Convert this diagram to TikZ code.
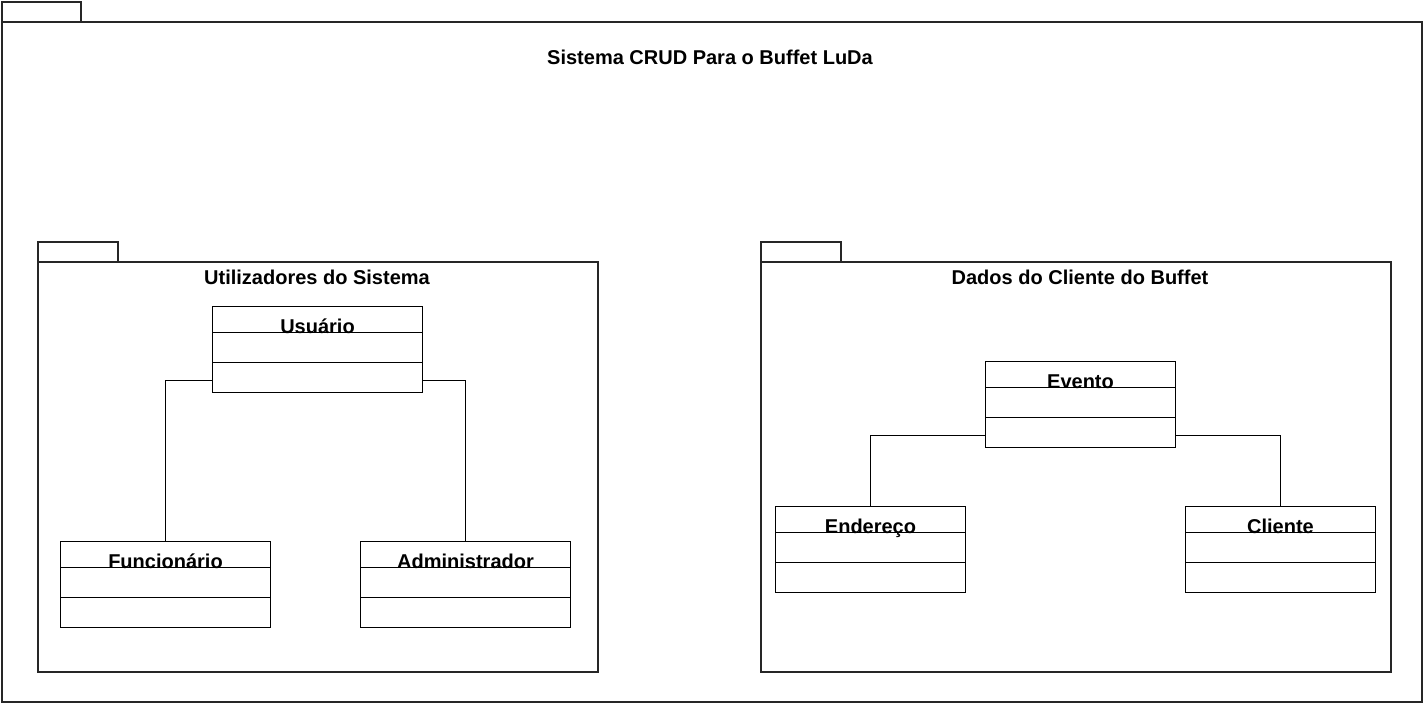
\documentclass[tikz,border=0pt]{standalone}
\usepackage{fontspec}
\setmainfont{Liberation Sans}
\begin{document}
\begin{tikzpicture}[x=1pt,y=-1pt,
  pkg/.style={draw=black!85,line width=1.6pt,fill=none,inner sep=0pt,anchor=north west},
  cls/.style={draw=black,line width=1pt,inner sep=0pt,anchor=north west,minimum width=210pt,minimum height=86pt},
  clsname/.style={font=\bfseries\fontsize{20}{23}\selectfont,inner sep=0pt,anchor=base},
  ptitle/.style={font=\bfseries\fontsize{20}{23}\selectfont,inner sep=0pt},
  conn/.style={draw=black,line width=1pt}]
\useasboundingbox (0,0) rectangle (1423,703);
% outer package
\node[pkg,minimum width=79pt,minimum height=20pt] (otab) at (1,1) {};
\node[pkg,minimum width=1420pt,minimum height=680pt] (outer) at (1,21) {};
\node[ptitle] (otitle) at (710,57) {Sistema CRUD Para o Buffet LuDa};
% left package
\node[pkg,minimum width=80pt,minimum height=20pt] (ltab) at (37,241) {};
\node[pkg,minimum width=560pt,minimum height=410pt] (lpkg) at (37,261) {};
\node[ptitle] (ltitle) at (317,277) {Utilizadores do Sistema};
% right package
\node[pkg,minimum width=80pt,minimum height=20pt] (rtab) at (760,241) {};
\node[pkg,minimum width=630pt,minimum height=410pt] (rpkg) at (760,261) {};
\node[ptitle] (rtitle) at (1080,277) {Dados do Cliente do Buffet};
% classes
\node[cls] (usu) at (212,306) {};
\node[cls] (fun) at (60,541) {};
\node[cls] (adm) at (360,541) {};
\node[cls,minimum width=190pt] (eve) at (985,361) {};
\node[cls,minimum width=190pt] (end) at (775,506) {};
\node[cls,minimum width=190pt] (cli) at (1185,506) {};
\foreach \c in {usu,fun,adm,eve,end,cli}{
  \draw[line width=1pt] ([yshift=-26pt]\c.north west) -- ([yshift=-26pt]\c.north east);
  \draw[line width=1pt] ([yshift=-56pt]\c.north west) -- ([yshift=-56pt]\c.north east);
}
\node[clsname] (usun) at ([yshift=-27pt]usu.north) {Usuário};
\node[clsname] (funn) at ([yshift=-27pt]fun.north) {Funcionário};
\node[clsname] (admn) at ([yshift=-27pt]adm.north) {Administrador};
\node[clsname] (even) at ([yshift=-27pt]eve.north) {Evento};
\node[clsname] (endn) at ([yshift=-27pt]end.north) {Endereço};
\node[clsname] (clin) at ([yshift=-27pt]cli.north) {Cliente};
% connectors
\draw[conn] ([yshift=13pt]usu.south west) -| (fun.north);
\draw[conn] ([yshift=13pt]usu.south east) -| (adm.north);
\draw[conn] ([yshift=13pt]eve.south west) -| (end.north);
\draw[conn] ([yshift=13pt]eve.south east) -| (cli.north);
\end{tikzpicture}
\end{document}
